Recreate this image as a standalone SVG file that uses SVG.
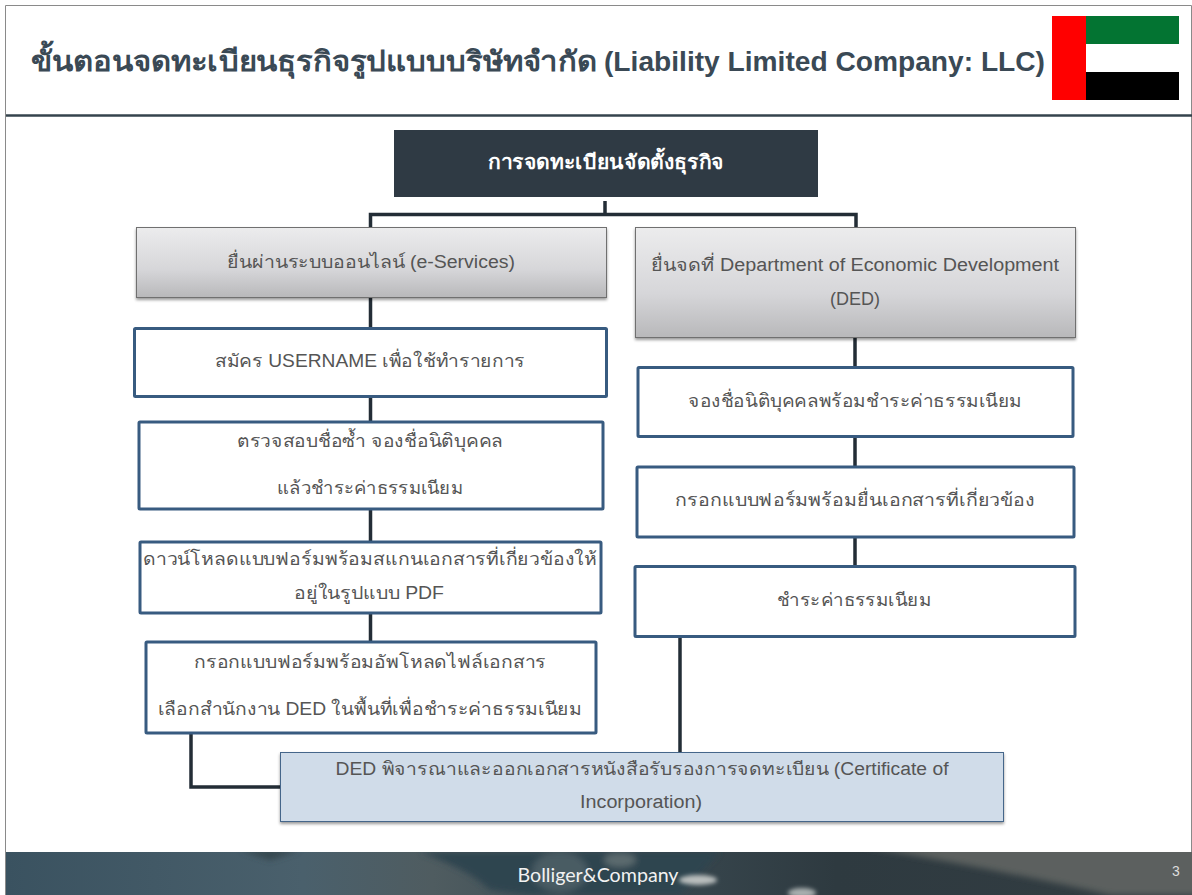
<svg xmlns="http://www.w3.org/2000/svg" width="1192" height="895" viewBox="0 0 1192 895">
<style>
text{font-family:"Liberation Sans","Noto Sans",Arial,sans-serif;text-anchor:middle;}
.t{font-size:18px;fill:#555;}
.con{fill:none;stroke:#232d36;stroke-width:3.5;}
.blue{fill:#fff;stroke:#385b80;stroke-width:3;}
.grey{fill:url(#g);stroke:#6f6f6f;stroke-width:1;filter:url(#s);}
.ttl{font-size:28px;font-weight:bold;fill:#3a4955;text-anchor:start;}
.brand{font-family:Lato,"Noto Sans",sans-serif;font-size:19px;fill:#f2f2f2;}
</style>
<defs>
<linearGradient id="g" x1="0" y1="0" x2="0" y2="1"><stop offset="0" stop-color="#ececed"/><stop offset="0.6" stop-color="#d6d6d9"/><stop offset="1" stop-color="#b8b8ba"/></linearGradient>
<linearGradient id="f" x1="0" y1="0" x2="1" y2="0"><stop offset="0" stop-color="#3a5260"/><stop offset="0.25" stop-color="#4a606c"/><stop offset="0.36" stop-color="#4f5c60"/><stop offset="0.5" stop-color="#3c4c54"/><stop offset="0.7" stop-color="#2e3a40"/><stop offset="1" stop-color="#333d42"/></linearGradient>
<filter id="s" x="-5%" y="-10%" width="110%" height="125%"><feDropShadow dx="0" dy="2" stdDeviation="1.5" flood-color="#000" flood-opacity="0.4"/></filter>
<filter id="b"><feGaussianBlur stdDeviation="3"/></filter>
<filter id="s2" x="-30%" y="-60%" width="160%" height="220%"><feGaussianBlur stdDeviation="2"/></filter>
<clipPath id="fc"><rect x="6" y="852" width="1186" height="43"/></clipPath>
</defs>
<rect width="1192" height="895" fill="#fff"/>
<g id="frame">
<path d="M5.500 895V5.500H1191.500V852" fill="none" stroke="#8a8a8a" stroke-width="1"/>
<path d="M6 115.500H1192" stroke="#34434d" stroke-width="2.500"/>
</g>
<g id="title"><text class="ttl" x="31" y="71" textLength="566" lengthAdjust="spacingAndGlyphs">ขั้นตอนจดทะเบียนธุรกิจรูปแบบบริษัทจำกัด</text><text class="ttl" x="604" y="71" textLength="441" lengthAdjust="spacingAndGlyphs">(Liability Limited Company: LLC)</text></g>
<g id="flag">
<rect x="1052" y="16" width="34" height="84" fill="#f00"/>
<rect x="1086" y="16" width="93" height="28" fill="#037432"/>
<rect x="1086" y="44" width="93" height="28" fill="#fff"/>
<rect x="1086" y="72" width="93" height="28" fill="#000"/>
</g>
<g id="connectors">
<path class="con" d="M605 201V214.500H856V227M605 214.500H370.500V227"/>
<path class="con" d="M370.500 298V328M370.500 397V421M370.500 509V542M370.500 613V641"/>
<path class="con" d="M855 337V367M855 437V466M855 537V566"/>
<path class="con" d="M680 637V752M191 733V787H281"/>
</g>
<g id="root"><rect x="394" y="130" width="424" height="67" fill="#2f3a44"/><text x="606" y="169" font-size="20" font-weight="bold" fill="#fff" textLength="236" lengthAdjust="spacingAndGlyphs">การจดทะเบียนจัดตั้งธุรกิจ</text></g>
<g id="online"><rect class="grey" x="136.500" y="227.500" width="470" height="70"/><text class="t" x="371" y="268" textLength="288" lengthAdjust="spacingAndGlyphs">ยื่นผ่านระบบออนไลน์ (e-Services)</text></g>
<g id="ded"><rect class="grey" x="635.500" y="227.500" width="440" height="110"/><text class="t" x="855" y="271" textLength="408" lengthAdjust="spacingAndGlyphs">ยื่นจดที่ Department of Economic Development</text><text class="t" x="855" y="305">(DED)</text></g>
<g id="n1"><rect class="blue" x="134.500" y="328.500" width="472" height="68" rx="1"/><text class="t" x="370" y="367" textLength="310" lengthAdjust="spacingAndGlyphs">สมัคร USERNAME เพื่อใช้ทำรายการ</text></g>
<g id="n2"><rect class="blue" x="139" y="422" width="464" height="87" rx="1"/><text class="t" x="370" y="447" textLength="266" lengthAdjust="spacingAndGlyphs">ตรวจสอบชื่อซ้ำ จองชื่อนิติบุคคล</text><text class="t" x="370" y="494" textLength="186" lengthAdjust="spacingAndGlyphs">แล้วชำระค่าธรรมเนียม</text></g>
<g id="n3"><rect class="blue" x="140" y="542" width="461" height="71" rx="1"/><text class="t" x="370" y="565" textLength="454" lengthAdjust="spacingAndGlyphs">ดาวน์โหลดแบบฟอร์มพร้อมสแกนเอกสารที่เกี่ยวข้องให้</text><text class="t" x="369" y="599" textLength="150" lengthAdjust="spacingAndGlyphs">อยู่ในรูปแบบ PDF</text></g>
<g id="n4"><rect class="blue" x="146" y="642" width="450" height="91" rx="1"/><text class="t" x="370" y="668" textLength="352" lengthAdjust="spacingAndGlyphs">กรอกแบบฟอร์มพร้อมอัพโหลดไฟล์เอกสาร</text><text class="t" x="370" y="715" textLength="424" lengthAdjust="spacingAndGlyphs">เลือกสำนักงาน DED ในพื้นที่เพื่อชำระค่าธรรมเนียม</text></g>
<g id="m1"><rect class="blue" x="638" y="367.500" width="435" height="69" rx="1"/><text class="t" x="855" y="407" textLength="334" lengthAdjust="spacingAndGlyphs">จองชื่อนิติบุคคลพร้อมชำระค่าธรรมเนียม</text></g>
<g id="m2"><rect class="blue" x="637" y="467" width="437" height="70" rx="1"/><text class="t" x="855" y="506" textLength="360" lengthAdjust="spacingAndGlyphs">กรอกแบบฟอร์มพร้อมยื่นเอกสารที่เกี่ยวข้อง</text></g>
<g id="m3"><rect class="blue" x="635" y="566.500" width="440" height="70" rx="1"/><text class="t" x="854" y="606" textLength="154" lengthAdjust="spacingAndGlyphs">ชำระค่าธรรมเนียม</text></g>
<g id="cert"><rect x="280.500" y="752.500" width="723" height="69" fill="#d0dce9" stroke="#45668a" stroke-width="1" filter="url(#s)"/><text class="t" x="642" y="775" textLength="613" lengthAdjust="spacingAndGlyphs">DED พิจารณาและออกเอกสารหนังสือรับรองการจดทะเบียน (Certificate of</text><text class="t" x="641" y="808" textLength="122" lengthAdjust="spacingAndGlyphs">Incorporation)</text></g>
<g id="footer">
<rect x="6" y="852" width="1186" height="43" fill="url(#f)"/>
<g clip-path="url(#fc)">
<g filter="url(#b)">
<path d="M860 846H1200V895H1110Q1000 870 860 846Z" fill="#5b605e"/>
<path d="M420 852Q470 870 490 890L530 895H680L720 852Z" fill="#2f4450"/>
<path d="M240 850H300L270 860Z" fill="#36464e"/>
<ellipse cx="560" cy="872" rx="28" ry="20" fill="#55666c" opacity=".7"/>
<ellipse cx="620" cy="860" rx="16" ry="7" fill="#6e7a7b" opacity=".7"/>
</g>
<g filter="url(#s2)">
<ellipse cx="698" cy="880" rx="19" ry="5" fill="#b9bebd"/>
</g>
<g filter="url(#s2)">
<ellipse cx="802" cy="893" rx="14" ry="5" fill="#a8afaf"/>
</g>
</g>
<text class="brand" x="598" y="882" textLength="161" lengthAdjust="spacingAndGlyphs">Bolliger&amp;Company</text>
<text x="1176" y="876" font-size="14" fill="#ddd">3</text>
</g>
</svg>
